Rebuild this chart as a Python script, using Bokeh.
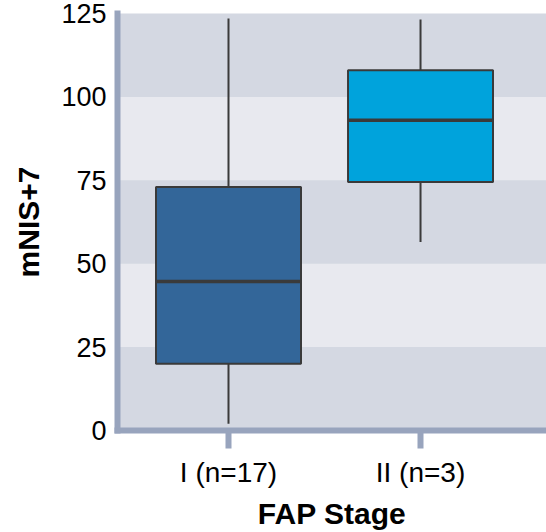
from bokeh.plotting import figure
from bokeh.models import ColumnDataSource, FixedTicker, Range1d
from bokeh.embed import file_html
from bokeh.resources import INLINE

# Data
categories = ["I (n=17)", "II (n=3)"]
positions = [1, 2]
lower_whisker = [2, 56.5]
q1 = [20, 74.5]
median = [44.7, 93]
q3 = [73, 108]
upper_whisker = [123.5, 123.2]
box_colors = ["#336699", "#00a3dc"]
y_ticks = [0, 25, 50, 75, 100, 125]

box_width = 0.755

src = ColumnDataSource(dict(
    x=positions, lw=lower_whisker, q1=q1, med=median, q3=q3, uw=upper_whisker,
    color=box_colors,
    x0=[v - box_width / 2 for v in positions],
    x1=[v + box_width / 2 for v in positions],
))

p = figure(width=546, height=532, output_backend="svg", toolbar_location=None,
           x_range=Range1d(0.422, 2.656), y_range=Range1d(0, 125))
p.min_border_left = 117
p.min_border_right = 0
p.min_border_top = 13
p.min_border_bottom = 102
p.outline_line_color = None
p.background_fill_color = "#d4d8e2"
p.border_fill_color = "white"

p.xgrid.grid_line_color = None
p.ygrid.grid_line_color = None
p.ygrid.ticker = FixedTicker(ticks=y_ticks)
p.ygrid.band_fill_color = "#e8e9ef"
p.ygrid.band_fill_alpha = 1.0

outline = "#3a3a3a"
p.segment(x0="x", x1="x", y0="q3", y1="uw", source=src, line_color=outline, line_width=2)
p.segment(x0="x", x1="x", y0="lw", y1="q1", source=src, line_color=outline, line_width=2)
p.vbar(x="x", width=box_width, bottom="q1", top="q3", source=src,
       fill_color="color", line_color=outline, line_width=2)
p.segment(x0="x0", x1="x1", y0="med", y1="med", source=src, line_color=outline, line_width=3.5)

axis_color = "#98a4bd"
font = "Liberation Sans"

xa = p.xaxis[0]
xa.ticker = FixedTicker(ticks=positions)
xa.major_label_overrides = {pos: lab for pos, lab in zip(positions, categories)}
xa.minor_tick_line_color = None
xa.axis_line_color = axis_color
xa.axis_line_width = 6
xa.axis_line_cap = "square"
xa.major_tick_line_color = axis_color
xa.major_tick_line_width = 6
xa.major_tick_in = 0
xa.major_tick_out = 18
xa.major_label_standoff = 8
xa.major_label_text_font = font
xa.major_label_text_font_size = "28px"
xa.major_label_text_color = "black"
xa.axis_label = "FAP Stage"
xa.axis_label_text_font = font
xa.axis_label_text_font_size = "30px"
xa.axis_label_text_font_style = "bold"
xa.axis_label_text_color = "black"
xa.axis_label_standoff = 6

ya = p.yaxis[0]
ya.ticker = FixedTicker(ticks=y_ticks)
ya.minor_tick_line_color = None
ya.major_tick_line_color = None
ya.major_tick_in = 0
ya.major_tick_out = 0
ya.axis_line_color = axis_color
ya.axis_line_width = 6
ya.axis_line_cap = "square"
ya.major_label_standoff = 11
ya.major_label_text_font = font
ya.major_label_text_font_size = "27px"
ya.major_label_text_color = "black"
ya.axis_label = "mNIS+7"
ya.axis_label_text_font = font
ya.axis_label_text_font_size = "30px"
ya.axis_label_text_font_style = "bold"
ya.axis_label_text_color = "black"
ya.axis_label_standoff = 13

open("out.html", "w").write(file_html(p, INLINE))
